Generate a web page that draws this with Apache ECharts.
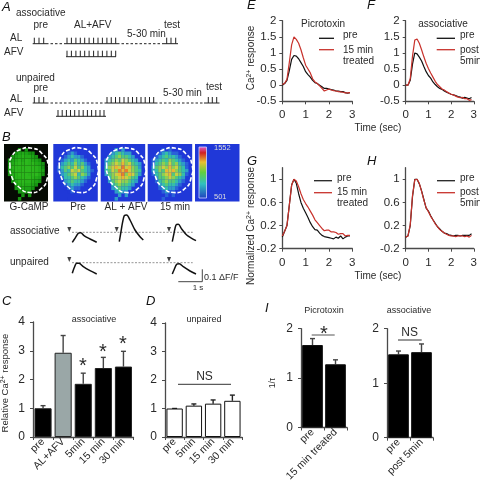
<!DOCTYPE html>
<html><head><meta charset="utf-8">
<style>html,body{margin:0;padding:0;background:#fff}#c{width:480px;height:484px;filter:blur(.35px)}</style>
<script src="https://cdn.jsdelivr.net/npm/echarts@6/dist/echarts.min.js"></script>
</head><body><div id="c"></div>
<script>
const timeSec=[0,.1,.2,.3,.4,.5,.6,.7,.8,.9,1,1.1,1.2,1.3,1.4,1.5,1.6,1.7,1.8,1.9,2,2.1,2.2,2.3,2.4,2.5,2.6,2.7,2.8,2.9];
const ePre=[0,.05,.15,.45,.8,.92,.9,.82,.7,.58,.42,.33,.25,.15,.08,.05,0,-.05,-.1,-.1,-.12,-.14,-.15,-.18,-.18,-.2,-.2,-.23,-.25,-.23];
const eTreated=[.02,.06,.18,.7,1.25,1.5,1.42,1.3,1.1,.85,.62,.5,.38,.2,.1,.05,-.02,-.1,-.18,-.15,-.12,-.15,-.17,-.18,-.2,-.21,-.22,-.24,-.24,-.23];
const fPre=[0,0,.15,.65,1,.97,.87,.75,.58,.42,.3,.22,.1,.02,-.05,-.1,-.13,-.18,-.22,-.25,-.28,-.3,-.32,-.35,-.37,-.4,-.38,-.4,-.42,-.38];
const fPost=[0,0,.2,.9,1.4,1.43,1.3,1.1,.88,.68,.52,.38,.25,.12,.02,-.05,-.12,-.15,-.2,-.24,-.28,-.3,-.34,-.37,-.39,-.38,-.42,-.42,-.47,-.45];
const gPre=[0,.1,.2,.55,.9,1,.93,.75,.6,.5,.42,.34,.25,.18,.13,.12,.07,.03,.01,0,-.01,-.02,-.03,0,-.02,.02,-.03,0,.02,.02];
const gTreated=[.02,.1,.2,.55,.9,1,.97,.87,.75,.65,.58,.52,.45,.38,.3,.25,.2,.15,.11,.12,.12,.09,.09,.08,.05,.06,.06,.02,.03,.03];
const hPre=[0,.02,.2,.7,1,1,.92,.8,.65,.5,.45,.37,.3,.24,.18,.14,.1,.07,.06,.04,.03,.02,.03,.03,.02,.03,.03,.03,.03,.06];
const hPost=[0,.02,.21,.72,.99,1,.93,.79,.64,.51,.44,.36,.3,.23,.18,.13,.1,.07,.05,.03,.02,.02,.01,.02,.02,.02,.01,.02,.0,.03];

const cCats=['pre','AL+AFV','5min','15 min','30 min'];
const cVals=[1,2.93,1.85,2.4,2.45];
const cTops=[1.09,3.53,2.22,2.77,2.98];
const dCats=['pre','5min','15 min','30 min'];
const dVals=[1,1.1,1.17,1.27];
const dTops=[1,1.16,1.3,1.47];
const iPicroCats=['pre','15 min treated'];
const iPicroVals=[1.67,1.28];
const iPicroTops=[1.8,1.37];
const iAssocCats=['pre','post 5min'];
const iAssocVals=[1.53,1.57];
const iAssocTops=[1.59,1.72];

// stimulus schedule (panel A)
const assocPreTicks=[34.3,39,43.7];
const assocPairTicks=[67,71.4,75.9,80.3,84.7,89.1,93.6,98,102.4,106.9,111.3,115.7];
const assocTestTicks=[166.7,171,175.7];
const unpPreTicks=[34.3,39,43.7];
const unpAlTicks=[107,111.2,115.5,119.7,124,128.2,132.5,136.7,141,145.2,149.5,153.7];
const unpAfvTicks=[58,62.2,66.4,70.5,74.7,79,83.2,87.4,91.6,95.8,100,104];
const unpTestTicks=[208.3,212.3,216.7];

// example traces (panel B)
const traceAssocPre=[[72.3,242.3],[75,238.3],[78.3,233.3],[80.7,232.7],[84,235.7],[90,239],[96.7,242.3]];
const traceAssocPair=[[119.3,241.7],[120.7,233.3],[122.7,221.7],[124.3,215.7],[126.7,215],[130,220],[135,230],[140,236.7],[143.3,240]];
const traceAssocPost=[[172.3,241.7],[174,233.3],[176,225],[178.3,224.3],[181.7,229],[186.7,235],[191.7,238.3],[196,240.7]];
const traceUnpPre=[[72.3,273.3],[74,268.3],[76.7,263.3],[79,263.3],[83.3,266.7],[90,270.7],[96.7,274]];
const traceUnpPost=[[172.3,274],[174,270],[176.7,264.3],[179.3,263.7],[183.3,266.7],[190,271],[196,274]];
const stimArrows=[[69.3,229.5],[116.7,229.5],[169,229.5],[69.3,259.5],[169,259.5]];

// coarse fluorescence intensity of the antennal-lobe images, hand read (0-9)
const lobeRows=[
'0000000000000',
'0000101000000',
'0001232110000',
'0012343321000',
'0123435432100',
'0134546453210',
'0245657564310',
'0235476754320',
'0134567465310',
'0024456543200',
'0013454432100',
'0002343321000',
'0001232210000',
'0000121100000',
'0000010100000',
'0000100000000'];
const heatRamp=['#2038d8','#2a62d8','#2f9cc8','#35bfa8','#55c878','#8ed050','#c8d040','#e8b830','#e88028','#d83020'];
const greenRamp=['#050a03','#0b3207','#107a0b','#169412','#1ca416','#22ac18','#28b41b','#2cb81d','#2cb81d','#2cb81d'];

const FONT='"Liberation Sans",Arial,sans-serif';
const TXT='#2a2a2a', AX='#4a4a4a', RED='#c8322c';

const grids=[],xAxes=[],yAxes=[],series=[],graphic=[];
function addGrid(l,t,w,h,xa,ya){grids.push({left:l,top:t,width:w,height:h,containLabel:false});
  xAxes.push(Object.assign({gridIndex:grids.length-1},xa));yAxes.push(Object.assign({gridIndex:grids.length-1},ya));return grids.length-1;}
const lineSty=(w)=>({show:true,onZero:false,lineStyle:{color:AX,width:w||1.3}});
const tickSty=(len)=>({show:true,length:len||3,inside:false,lineStyle:{color:AX,width:1}});
const lab=(m,fs)=>({color:TXT,fontFamily:FONT,fontSize:fs||11.5,margin:m});

function traceGrid(l,t,w,h,yCfg,a,b){
  const i=addGrid(l,t,w,h,
   {type:'value',min:0,max:3,interval:1,axisLine:lineSty(),axisTick:tickSty(3),axisLabel:lab(8),splitLine:{show:false}},
   Object.assign({type:'value',axisLine:lineSty(),axisTick:tickSty(3),splitLine:{show:false}},yCfg));
  [[a,'#111'],[b,RED]].forEach(([arr,c])=>series.push({type:'line',xAxisIndex:i,yAxisIndex:i,showSymbol:false,silent:true,animation:false,
    data:timeSec.map((t,k)=>[t,arr[k]]),lineStyle:{color:c,width:1.2},itemStyle:{color:c}}));
}
const yE={min:-.5,max:2,interval:.5,axisLabel:lab(6)};
const gTicks=[-.2,.2,.6,1];
const yG={min:-.2,max:1.2,axisTick:Object.assign(tickSty(3),{customValues:gTicks}),axisLabel:Object.assign(lab(6),{customValues:gTicks})};
traceGrid(282.3,20.7,70,80.6,yE,ePre,eTreated);
traceGrid(405.7,20.7,69.7,80.6,yE,fPre,fPost);
traceGrid(282.3,167.7,70,81,yG,gPre,gTreated);
traceGrid(405.7,167.7,69.7,81,yG,hPre,hPost);

function barGrid(l,t,w,h,max,cats,vals,tops,colors,edge,errC,bw){
  const i=addGrid(l,t,w,h,
   {type:'category',data:cats,axisLine:lineSty(1.3),axisTick:Object.assign(tickSty(3),{alignWithLabel:false}),
    axisLabel:Object.assign(lab(3,10.5),{rotate:45,interval:0})},
   {type:'value',min:0,max:max,interval:1,axisLine:lineSty(1.3),axisTick:tickSty(3),axisLabel:lab(8,12),splitLine:{show:false}});
  series.push({type:'bar',xAxisIndex:i,yAxisIndex:i,barWidth:bw,silent:true,animation:false,
    data:vals.map((v,k)=>({value:v,itemStyle:{color:colors[k],borderColor:edge,borderWidth:1}}))});
  series.push({type:'custom',xAxisIndex:i,yAxisIndex:i,silent:true,animation:false,clip:false,
    data:cats.map((c,k)=>[k,vals[k],tops[k]]),
    encode:{x:0,y:[1,2]},
    renderItem:(p,api)=>{const a=api.coord([api.value(0),api.value(1)]),b=api.coord([api.value(0),api.value(2)]);
      const st={stroke:errC,lineWidth:1.4,fill:null};
      return {type:'group',children:[
        {type:'line',shape:{x1:a[0],y1:a[1],x2:b[0],y2:b[1]},style:st},
        {type:'line',shape:{x1:a[0]-2.5,y1:b[1],x2:a[0]+2.5,y2:b[1]},style:st}]};}});
}
barGrid(33,322,100.5,115,4,cCats,cVals,cTops,['#000','#9aa7a7','#000','#000','#000'],'#222','#444','85%');
barGrid(165,323,77,114,4,dCats,dVals,dTops,dCats.map(()=>'#fff'),'#111','#222','85%');
barGrid(301,328.7,46,109,2,iPicroCats,iPicroVals,iPicroTops,['#000','#000'],'#111','#444','90%');
barGrid(387,328.7,46,109,2,iAssocCats,iAssocVals,iAssocTops,['#000','#000'],'#111','#444','90%');

// overlay in page units for schematics
const ov=addGrid(0,0,480,484,{type:'value',min:0,max:480,show:false},{type:'value',min:0,max:484,inverse:true,show:false});
function poly(pts,color,w,dash){series.push({type:'line',xAxisIndex:ov,yAxisIndex:ov,showSymbol:false,silent:true,animation:false,connectNulls:false,
  data:pts,lineStyle:{color:color,width:w,type:dash||'solid'},itemStyle:{color:color}});}
const hseg=(x1,x2,y)=>[[x1,y],[x2,y]];
const ticks=(xs,y0,y1)=>{const o=[];xs.forEach(x=>{o.push([x,y0],[x,y1],[null,null]);});return o;};
const K='#222';
// A
poly(hseg(32.7,46,43.7),K,1);poly(hseg(46,66,43.7),K,1,[2.5,2]);poly(hseg(66,117,43.7),K,1);poly(hseg(117,164,43.7),K,1,[2.5,2]);poly(hseg(164,178,43.7),K,1);
poly(ticks(assocPreTicks,43.7,37.7),K,1);poly(ticks(assocPairTicks,43.7,37.7),K,1);poly(ticks(assocTestTicks,43.7,37.7),K,1);
poly(hseg(66,116,56.7),K,1);poly(ticks(assocPairTicks,56.7,50.7),K,1);
poly(hseg(32.7,46,103),K,1);poly(hseg(46,105,103),K,1,[2.5,2]);poly(hseg(105,155,103),K,1);poly(hseg(155,204,103),K,1,[2.5,2]);poly(hseg(204,219.5,103),K,1);
poly(ticks(unpPreTicks,103,97),K,1);poly(ticks(unpAlTicks,103,97),K,1);poly(ticks(unpTestTicks,103,97),K,1);
poly(hseg(56,106,116.3),K,1);poly(ticks(unpAfvTicks,116.3,110),K,1);
// B traces
poly(hseg(72,192.7,232.3),'#777',.8,[2,1.5]);poly(hseg(72,192.7,262.7),'#777',.8,[2,1.5]);
[traceAssocPre,traceAssocPair,traceAssocPost,traceUnpPre,traceUnpPost].forEach(t=>series.push({type:'line',xAxisIndex:ov,yAxisIndex:ov,smooth:.3,showSymbol:false,silent:true,animation:false,data:t,lineStyle:{color:'#111',width:1.5}}));
series.push({type:'scatter',xAxisIndex:ov,yAxisIndex:ov,silent:true,animation:false,data:stimArrows,symbol:'triangle',symbolRotate:180,symbolSize:[4,5],itemStyle:{color:'#111'}});
poly(hseg(178.3,202.3,281.7),'#444',1);poly([[202.3,269.3],[202.3,281.7]],'#444',1);
// legends
[[319,334,38.3,'#111'],[319,334,49.7,RED],[436.7,455,38.3,'#111'],[436.7,455,49.7,RED],[314,332,180.7,'#222'],[314,332,192.7,RED],[437,455,180.7,'#222'],[437,455,192.7,RED]]
 .forEach(([a,b,y,c])=>poly(hseg(a,b,y),c,1.3));
// annotation rules
poly(hseg(178,231,384.3),'#333',1);poly(hseg(311.7,334.7,335),'#555',1);poly(hseg(398,421.7,340),'#333',1);

function T(x,y,text,o){o=o||{};
  const rich={sup:{fontSize:7,verticalAlign:'top',fill:o.fill||TXT,fontFamily:FONT,padding:[0,0,3,0]},n:{fontSize:o.fs||10,fill:o.fill||TXT,fontFamily:FONT}};
  graphic.push({type:'text',x:x,y:y,rotation:o.rot||0,z:10,silent:true,style:{text:text,fill:o.fill||TXT,fontFamily:FONT,fontSize:o.fs||10,fontStyle:o.it?'italic':'normal',
    textAlign:o.a||'left',textVerticalAlign:'middle',rich:o.rich?rich:undefined}});}
[['A',2,7],['B',2,137],['C',2,301],['D',146,301],['E',247,5],['F',367,5],['G',247,161],['H',367,161],['I',265,308]].forEach(([s,x,y])=>T(x,y,s,{fs:13,it:true,fill:'#111'}));
// A text
T(16,13,'associative');T(33.5,25,'pre');T(74,25,'AL+AFV');T(127,34,'5-30 min');T(164,25,'test');T(10,38,'AL');T(4,52,'AFV');
T(16,78,'unpaired');T(33.5,88,'pre');T(10,99,'AL');T(4,113,'AFV');T(163,93,'5-30 min');T(206,87,'test');
// B text
T(29,207.7,'G-CaMP',{a:'center',fs:10});T(78,207.7,'Pre',{a:'center'});T(126,207.7,'AL + AFV',{a:'center'});T(175,207.7,'15 min',{a:'center'});
T(10,231,'associative');T(10,262,'unpaired');T(204,278,'0.1 ΔF/F',{fs:9});T(198,288,'1 s',{a:'center',fs:8});
T(214,148,'1552',{fs:7.5,fill:'#ddd'});T(214,197,'501',{fs:7.5,fill:'#ddd'});
// C D
T(94,320,'associative',{a:'center',fs:9});T(204,320,'unpaired',{a:'center',fs:9});
T(83,366.7,'*',{a:'center',fs:20});T(103,352.5,'*',{a:'center',fs:20});T(123,344.7,'*',{a:'center',fs:20});
T(204.5,377,'NS',{a:'center',fs:12});
T(5,383,'{n|Relative Ca}{sup|2+}{n| response}',{a:'center',rot:Math.PI/2,rich:true,fs:9.5});
// E-H
T(323,24,'Picrotoxin',{a:'center'});T(443,24,'associative',{a:'center'});
T(343,35,'pre');T(343,50,'15 min');T(343,61,'treated');T(460,35,'pre');T(460,50,'post');T(460,61,'5min');
T(337,178,'pre');T(337,192,'15 min');T(337,203,'treated');T(460,178,'pre');T(460,192,'post');T(460,203,'5min');
T(378,128,'Time (sec)',{a:'center'});T(378,276,'Time (sec)',{a:'center'});
T(251,58,'{n|Ca}{sup|2+}{n| response}',{a:'center',rot:Math.PI/2,rich:true});
T(251,226,'{n|Normalized Ca}{sup|2+}{n| response}',{a:'center',rot:Math.PI/2,rich:true});
// I
T(324,311,'Picrotoxin',{a:'center',fs:9});T(409,311,'associative',{a:'center',fs:9});
T(324,334,'*',{a:'center',fs:20});T(409.6,333,'NS',{a:'center',fs:12});
T(273,383,'1/τ',{a:'center',rot:Math.PI/2,fs:8.5});

// B images: background, intensity cells, dashed outline
const outline=[[6,25],[7.7,15],[16,8.3],[27.7,6.7],[37.7,11.7],[44.3,23.3],[43.3,36.7],[37.7,46.7],[26,51],[14.3,45],[7.7,35]];
const panels=[{x:4,w:44,bg:'#050a03',ramp:greenRamp,gain:2},{x:53.3,w:44.5,bg:'#2038d8',ramp:heatRamp,gain:-1},{x:100.7,w:44.5,bg:'#2038d8',ramp:heatRamp,gain:1},{x:147.7,w:44.5,bg:'#2038d8',ramp:heatRamp,gain:0}];
const cells=[];
panels.forEach(p=>{
  graphic.push({type:'rect',z:1,silent:true,shape:{x:p.x,y:144,width:p.w,height:57.5},style:{fill:p.bg}});
  graphic.push({type:'polygon',z:9,silent:true,shape:{points:outline.map(o=>[p.x+o[0],141.5+o[1]]),smooth:.6},style:{fill:'none',stroke:'#fff',lineWidth:1.6,lineDash:[4,2]}});
  lobeRows.forEach((row,r)=>[...row].forEach((d,c)=>{const v=+d;if(v>0)cells.push([p.x+.5+c*3.35,144.5+r*3.5,p.ramp[Math.max(0,Math.min(9,v+p.gain))]]);}));
});
series.push({type:'custom',xAxisIndex:ov,yAxisIndex:ov,silent:true,animation:false,z:3,data:cells,encode:{x:0,y:1},
  renderItem:(p,api)=>{const a=api.coord([api.value(0),api.value(1)]);const c=cells[p.dataIndex][2];
    return {type:'rect',shape:{x:a[0],y:a[1],width:3.4,height:3.6},style:{fill:c}};}});
graphic.push({type:'rect',z:1,silent:true,shape:{x:195,y:144,width:44.5,height:57.5},style:{fill:'#2038d8'}});
graphic.push({type:'rect',z:9,silent:true,shape:{x:199,y:147,width:7.5,height:51},style:{stroke:'#cfd6ff',lineWidth:.8,
  fill:{type:'linear',x:0,y:0,x2:0,y2:1,colorStops:[{offset:0,color:'#e060d8'},{offset:.12,color:'#d02020'},{offset:.3,color:'#e8c030'},{offset:.5,color:'#60d040'},{offset:.72,color:'#30c0c0'},{offset:1,color:'#2040c0'}]}}});

const chart=echarts.init(document.getElementById('c'),null,{renderer:'canvas',width:480,height:484});
chart.setOption({animation:false,backgroundColor:'#fff',grid:grids,xAxis:xAxes,yAxis:yAxes,series:series,graphic:{elements:graphic}});
</script></body></html>
